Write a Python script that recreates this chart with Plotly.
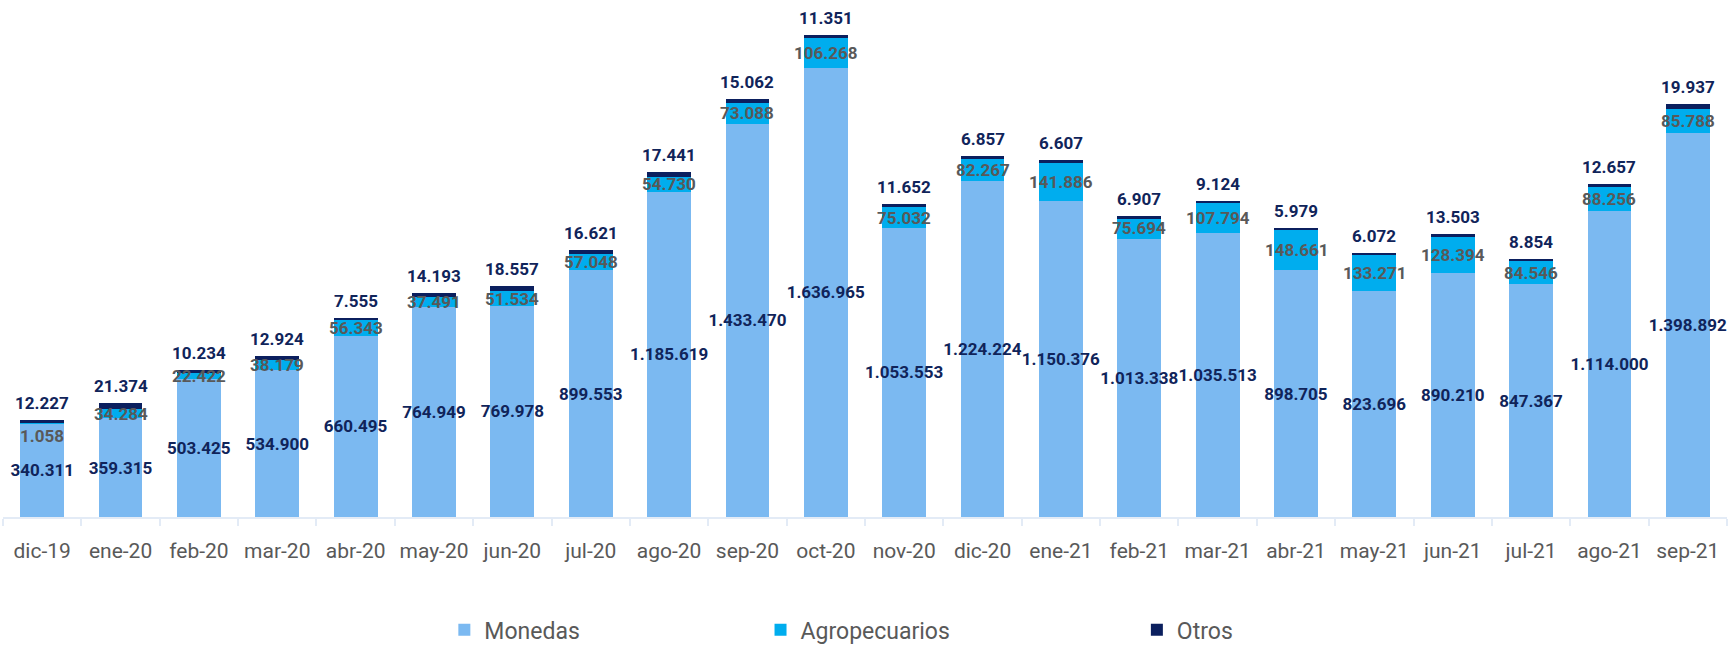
import plotly.graph_objects as go

categories = ["dic-19", "ene-20", "feb-20", "mar-20", "abr-20", "may-20", "jun-20", "jul-20",
              "ago-20", "sep-20", "oct-20", "nov-20", "dic-20", "ene-21", "feb-21", "mar-21",
              "abr-21", "may-21", "jun-21", "jul-21", "ago-21", "sep-21"]

monedas = [340311, 359315, 503425, 534900, 660495, 764949, 769978, 899553, 1185619, 1433470,
           1636965, 1053553, 1224224, 1150376, 1013338, 1035513, 898705, 823696, 890210,
           847367, 1114000, 1398892]

agropecuarios = [1058, 34284, 22422, 38179, 56343, 37491, 51534, 57048, 54730, 73088, 106268,
                 75032, 82267, 141886, 75694, 107794, 148661, 133271, 128394, 84546, 88256, 85788]

otros = [12227, 21374, 10234, 12924, 7555, 14193, 18557, 16621, 17441, 15062, 11351, 11652,
         6857, 6607, 6907, 9124, 5979, 6072, 13503, 8854, 12657, 19937]

series_names = ["Monedas", "Agropecuarios", "Otros"]

C_MON = "#7bb9f1"
C_AGRO = "#00adee"
C_OTROS = "#0b1f5e"
NAVY_TXT = "#10245a"
GRAY_TXT = "#595959"
FONT = "Roboto"


def fmt(v):
    return f"{v:,}".replace(",", ".")


fig = go.Figure()
fig.add_trace(go.Bar(
    x=categories, y=monedas, name=series_names[0], marker=dict(color=C_MON, line=dict(width=0)),
    text=[fmt(v) for v in monedas], textposition="inside", insidetextanchor="middle",
    textangle=0, constraintext="none", cliponaxis=False,
    insidetextfont=dict(family=FONT, size=17, color=NAVY_TXT, weight="bold"),
    legend="legend"))
fig.add_trace(go.Bar(
    x=categories, y=agropecuarios, name=series_names[1],
    marker=dict(color=C_AGRO, line=dict(width=0)), legend="legend2"))
fig.add_trace(go.Bar(
    x=categories, y=otros, name=series_names[2],
    marker=dict(color=C_OTROS, line=dict(width=0)), legend="legend3"))

annotations = []
for c, m, a, o in zip(categories, monedas, agropecuarios, otros):
    if a < 10000:
        annotations.append(dict(x=c, y=m + a, text=fmt(a), showarrow=False, yanchor="top",
                                yshift=-1,
                                font=dict(family=FONT, size=17, color=GRAY_TXT, weight="bold")))
    else:
        annotations.append(dict(x=c, y=m + a / 2, text=fmt(a), showarrow=False, yanchor="middle",
                                font=dict(family=FONT, size=17, color=GRAY_TXT, weight="bold")))
    annotations.append(dict(x=c, y=m + a + o, text=fmt(o), showarrow=False, yanchor="bottom",
                            yshift=5,
                            font=dict(family=FONT, size=17, color=NAVY_TXT, weight="bold")))

legend_common = dict(orientation="h", yanchor="middle", y=-0.218, xanchor="left",
                     bgcolor="rgba(0,0,0,0)", font=dict(family=FONT, size=23, color=GRAY_TXT))

fig.update_layout(
    barmode="stack",
    bargap=0.44,
    width=1729, height=646,
    margin=dict(l=3, r=2, t=0, b=129, autoexpand=False),
    paper_bgcolor="white", plot_bgcolor="white",
    font=dict(family=FONT, color=GRAY_TXT),
    annotations=annotations,
    showlegend=True,
    legend=dict(legend_common, x=0.2560),
    legend2=dict(legend_common, x=0.4394),
    legend3=dict(legend_common, x=0.6577),
    xaxis=dict(
        type="category", showline=True, linecolor="#e3ebf6", linewidth=2,
        ticks="outside", tickson="boundaries", ticklen=7, tickwidth=2, tickcolor="#e3ebf6",
        showgrid=False, zeroline=False, tickangle=0, ticklabelstandoff=14,
        tickfont=dict(family=FONT, size=21, color=GRAY_TXT),
    ),
    yaxis=dict(range=[0, 1883400], visible=False, showgrid=False, zeroline=False),
)

fig.write_html(
    "out.html",
    config={"displayModeBar": False},
    post_script="document.body.style.margin='0';document.body.style.overflow='hidden';",
)
